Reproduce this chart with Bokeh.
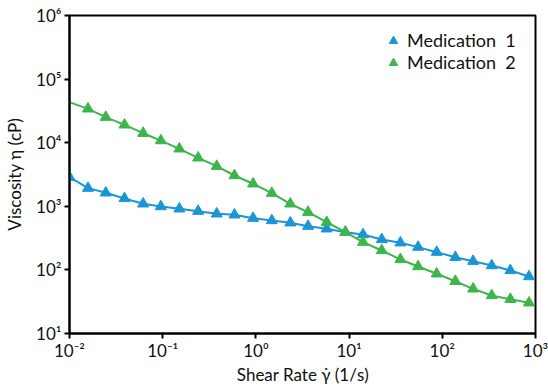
from bokeh.plotting import figure
from bokeh.models import (Range1d, FixedTicker, CustomJSTickFormatter, Legend, LegendItem,
                          ColumnDataSource)
from bokeh.embed import file_html
from bokeh.resources import INLINE

# ---- data ----
shear_rate = [0.0100, 0.0158, 0.0245, 0.0389, 0.0617, 0.0955, 0.151, 0.240, 0.380, 0.589,
              0.933, 1.48, 2.34, 3.63, 5.75, 9.12, 14.1, 22.4, 35.5, 55.0,
              87.1, 138, 214, 339, 537, 851]
visc_med1 = [2870, 1930, 1630, 1330, 1094, 993, 914, 838, 762, 735,
             650, 598, 551, 487, 443, 392, 360, 301, 267, 228,
             190, 158, 137, 117, 98, 78.7]
visc_med2 = [43400, 34100, 25200, 19100, 14100, 10800, 8020, 5790, 4270, 3050,
             2260, 1610, 1094, 807, 562, 392, 273, 202, 146, 113,
             86.9, 66.4, 50.4, 39.6, 34.6, 30.4]
series_names = ["Medication  1", "Medication  2"]
x_ticks = [1e-2, 1e-1, 1e0, 1e1, 1e2, 1e3]
y_ticks = [1e1, 1e2, 1e3, 1e4, 1e5, 1e6]

BLUE = "#1a96d6"
GREEN = "#3cb64a"
FONT = "Lato"

p = figure(width=548, height=389, x_axis_type="log", y_axis_type="log",
           x_range=Range1d(1e-2, 1e3), y_range=Range1d(1e1, 1e6),
           output_backend="svg", toolbar_location=None,
           min_border_left=69, min_border_right=13, min_border_top=15, min_border_bottom=56)

p.background_fill_color = "white"
p.border_fill_color = "white"
p.outline_line_color = "black"
p.outline_line_width = 2
p.xgrid.visible = False
p.ygrid.visible = False

fmt = CustomJSTickFormatter(code="""
const sup = {'-':'\u207b','0':'\u2070','1':'\u00b9','2':'\u00b2','3':'\u00b3','4':'\u2074',
             '5':'\u2075','6':'\u2076','7':'\u2077','8':'\u2078','9':'\u2079'};
const e = Math.round(Math.log10(tick));
return '10' + String(e).split('').map(c => sup[c]).join('');
""")

for ax, ticks in ((p.xaxis, x_ticks), (p.yaxis, y_ticks)):
    ax.ticker = FixedTicker(ticks=ticks)
    ax.formatter = fmt
    ax.axis_line_width = 2
    ax.axis_line_color = "black"
    ax.major_tick_line_width = 2
    ax.major_tick_line_color = "black"
    ax.major_tick_out = 5
    ax.major_tick_in = 0
    ax.minor_tick_line_color = None
    ax.major_label_text_font = FONT
    ax.major_label_text_font_size = "17px"
    ax.major_label_text_color = "#111111"
    ax.axis_label_text_font = FONT
    ax.axis_label_text_font_size = "17px"
    ax.axis_label_text_font_style = "normal"
    ax.axis_label_text_color = "#111111"

p.xaxis.axis_label = "Shear Rate \u03b3\u0307 (1/s)"
p.yaxis.axis_label = "Viscosity \u03b7 (cP)"
p.xaxis.major_label_standoff = 1
p.yaxis.major_label_standoff = 3
p.xaxis.axis_label_standoff = 0
p.yaxis.axis_label_standoff = 8

src1 = ColumnDataSource(dict(x=shear_rate, y=visc_med1))
src2_line = ColumnDataSource(dict(x=shear_rate, y=visc_med2))
src2_pts = ColumnDataSource(dict(x=shear_rate[1:], y=visc_med2[1:]))

p.line("x", "y", source=src1, line_color=BLUE, line_width=2)
r1 = p.scatter("x", "y", source=src1, marker="triangle", size=11,
               fill_color=BLUE, line_color=BLUE)
p.line("x", "y", source=src2_line, line_color=GREEN, line_width=2)
r2 = p.scatter("x", "y", source=src2_pts, marker="triangle", size=11,
               fill_color=GREEN, line_color=GREEN)

legend = Legend(items=[LegendItem(label=series_names[0], renderers=[r1]),
                       LegendItem(label=series_names[1], renderers=[r2])],
                location=(312, 260))
legend.border_line_color = None
legend.background_fill_alpha = 0
legend.label_text_font = FONT
legend.label_text_font_size = "18px"
legend.label_text_color = "#111111"
legend.glyph_width = 24
legend.glyph_height = 21
legend.label_height = 21
legend.spacing = 0
legend.padding = 2
legend.margin = 0
legend.label_standoff = 2
p.add_layout(legend)

open("out.html", "w").write(file_html(p, INLINE))
